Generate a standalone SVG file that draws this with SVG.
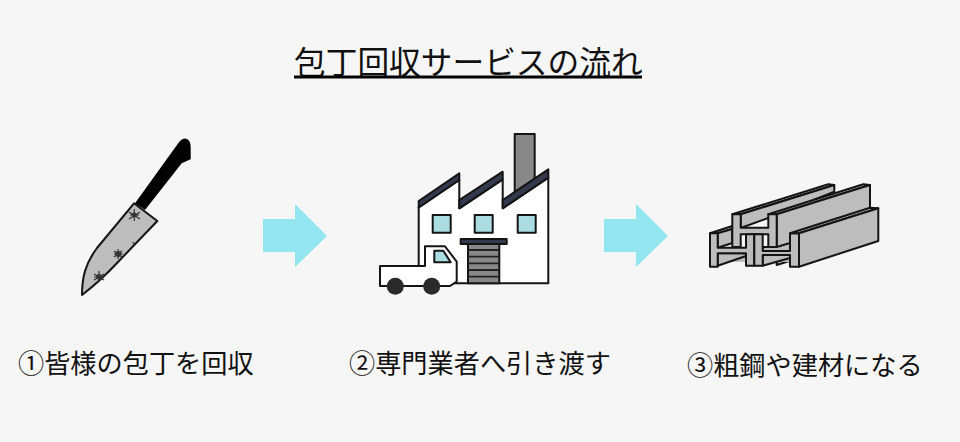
<svg xmlns="http://www.w3.org/2000/svg" width="960" height="442" viewBox="0 0 960 442">
<style>
text{font-family:"Noto Sans CJK JP","Noto Sans",sans-serif;fill:#111;font-weight:400}
.t{font-size:31.700px}.c{font-size:26.200px}
.k{stroke:#141414;stroke-width:2;stroke-linejoin:round}
.a{fill:#93e6ef}
.g{fill:#bdbdbd}
.w{fill:#fff}.n{fill:#333a4d}.q{fill:#aadde2}.d{fill:#888}
.s{stroke:#333;stroke-width:1.200;fill:none}
</style>
<rect width="960" height="442" fill="#f6f6f6"/>
<g id="title"><text class="t" x="294" y="74">包丁回収サービスの流れ</text><rect x="294" y="75.500" width="348" height="3" fill="#000"/></g>
<g id="knife">
<path class="g k" d="M134 203.300 157.300 221 118 262C106 275 95 285 82 295 82 278 85 264 97 248Z"/>
<path d="M135 203.300 179.300 141.700Q183.300 137 187 139 190.700 141 190.700 147V159.300L181.700 163.300 145 210Z" fill="#000"/>
<g class="s">
<path d="M134.300 209V221M129 212 140 219M129 219 140 212M130 215H139"/>
<path d="M118 249V259M114 251 123 258M114 257 122 251M114 254H123"/>
<path d="M99 271V282M94 274 104 280M94 280 104 274M94 277H104"/>
<path d="M133 242 134 244"/>
</g>
<g fill="#333"><circle cx="134.300" cy="215" r="2.500"/><circle cx="118.300" cy="254" r="3"/><circle cx="99" cy="276.700" r="2.800"/></g>
</g>
<g id="arrow1"><path class="a" d="M263 219H295V204L327 236 295 267V252H263Z"/></g>
<g id="factory">
<rect class="d k" x="514.700" y="134" width="20" height="62"/>
<path class="w k" d="M418.700 207 459.300 180V208.300L502.700 179.300V208.300L548.300 177.700V283.300H418.700Z"/>
<g class="n k">
<path d="M418.700 201 459.300 173.300V180L418.700 207.700Z"/>
<path d="M459.300 200 502.700 171.700V179.300L459.300 208.300Z"/>
<path d="M502.700 200 548.300 169.300V177.700L502.700 208.300Z"/>
</g>
<g class="q k"><rect x="432.700" y="215" width="18" height="17.700"/><rect x="474.700" y="215" width="18" height="17.700"/><rect x="517.700" y="215" width="18" height="17.700"/></g>
<rect class="n k" x="460.700" y="239" width="46" height="5"/>
<rect class="d k" x="468" y="244" width="31.300" height="39.300"/>
<path d="M468 250H499.300M468 256.700H499.300M468 263.300H499.300M468 270H499.300M468 276.700H499.300" stroke="#222" stroke-width="1.800" fill="none"/>
<path class="w k" d="M380 266H425V246.300H445L456.700 261.700V281.700L450 286H380Z"/>
<path class="q k" d="M434.300 250.700H443.300L450.700 262.300H434.300Z"/>
<circle cx="395.300" cy="286.300" r="8.500" fill="#2a2a2a"/><circle cx="431.700" cy="286.300" r="8.500" fill="#2a2a2a"/>
</g>
<g id="arrow2"><path class="a" d="M604 219H636V204L668 236 636 267V252H604Z"/></g>
<g id="beams">
<g class="g k">
<path d="M732.300 214.300 828.300 184.300 834.300 185 740.700 214.300Z"/>
<path d="M740.700 214.300 834.300 185V191.700L768.300 218 740.700 228Z"/>
<path d="M768.300 214.300 863.300 184.300 870 185 776.700 214.300Z"/>
<path d="M776.700 214.300 870 185V236L776.700 265Z"/>
<path d="M718 247H790V262H718Z" stroke="none"/>
<path d="M710 233.300 732.300 226V229L717.700 233.300Z"/>
<path d="M717.700 233.300 732.300 229V243L717.700 247.700Z"/>
<path d="M732.300 214.300H740.700V227.700H768.300V214.300H776.700V247H768.300V234.300H740.700V247H732.300Z"/>
<path d="M717.700 253.300H746V256L717.700 265.700Z"/>
<path d="M710 233.300H717.700V247.700H746V234.300H754.300V265.700H746V253.300H717.700V266.700H710Z"/>
<path d="M762.700 251V247H776.700L790 243V251Z"/>
<path d="M762.700 255H790V258L762.700 265.700Z"/>
<path d="M754.300 234.300H762.700V251H790V233.300H799V266.700H790V255H762.700V265.700H754.300Z"/>
<path d="M790 233.300 870 207.700 878.300 208.300 799 233.300Z"/>
<path d="M799 233.300 878.300 208.300V241L799 266.700Z"/>
</g>
</g>
<g id="step1"><text class="c" x="18" y="373">①皆様の包丁を回収</text></g>
<g id="step2"><text class="c" x="349" y="373">②専門業者へ引き渡す</text></g>
<g id="step3"><text class="c" x="687" y="375">③粗鋼や建材になる</text></g>
</svg>
